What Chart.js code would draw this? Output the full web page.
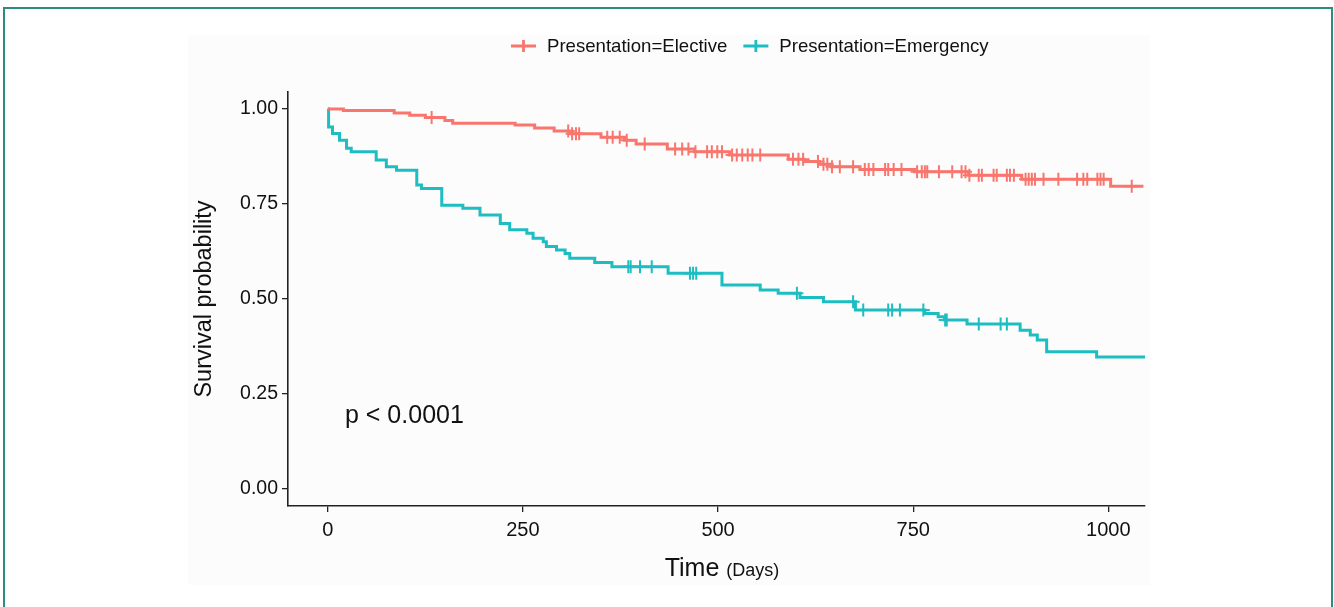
<!DOCTYPE html>
<html lang="en">
<head>
<meta charset="UTF-8">
<title>Survival by presentation</title>
<script src="https://cdn.jsdelivr.net/npm/chart.js"></script>
<style>
  * { margin: 0; padding: 0; box-sizing: border-box; }
  body {
    width: 1334px;
    height: 607px;
    background: #fff;
    overflow: hidden;
    position: relative;
    font-family: 'Liberation Sans', Arial, sans-serif;
  }
  /* thin teal frame round the figure */
  .frame {
    position: absolute;
    left: 3px;
    top: 7px;
    width: 1330px;
    height: 650px;
    border: 2px solid #2a8d7f;
  }
  .panel {
    position: absolute;
    left: 188px;
    top: 35px;
    width: 962px;
    height: 550px;
    background: #fcfcfc;
  }
  #km {
    position: absolute;
    left: 0;
    top: 0;
  }
</style>
</head>
<body>
<div class="frame"></div>
<div class="panel"></div>
<canvas id="km" width="1334" height="607"></canvas>

<script>
  const xTicks = [0, 250, 500, 750, 1000];
  const yTicks = [0, 0.25, 0.5, 0.75, 1];
  const seriesNames = ['Presentation=Elective', 'Presentation=Emergency'];
  const seriesColors = ['#f8766d', '#1dbdc2'];
  const pText = 'p < 0.0001';
  const pAt = { x: 22, y: 0.174 };

  // Elective: step curve (day, survival)
  const elecTime = [0, 20, 85, 105, 125, 150, 160, 240, 265, 290, 310, 350, 380, 395, 435, 470, 515, 590, 610, 630, 645, 682, 752, 821, 889, 1003, 1045];
  const elecSurv = [1.000, 0.996, 0.990, 0.984, 0.978, 0.970, 0.963, 0.958, 0.950, 0.942, 0.935, 0.926, 0.918, 0.908, 0.895, 0.888, 0.879, 0.868, 0.862, 0.855, 0.848, 0.841, 0.835, 0.826, 0.815, 0.797, 0.797];
  // Elective: censored patients
  const elecCensorTime = [133, 308, 313, 318, 322, 358, 365, 374, 383, 406, 445, 454, 462, 471, 486, 492, 499, 505,
    518, 524, 531, 538, 544, 554, 596, 603, 609, 628, 635, 640, 646, 656, 673, 688, 693, 699, 714, 718, 725, 735,
    755, 761, 765, 768, 783, 800, 812, 817, 822, 834, 838, 853, 857, 870, 874, 879, 894, 898, 902, 906, 917, 936,
    960, 968, 973, 986, 990, 994, 1030];
  const elecCensorSurv = [0.978, 0.942, 0.935, 0.935, 0.935, 0.926, 0.926, 0.926, 0.918, 0.908, 0.895, 0.895, 0.895, 0.888,
    0.888, 0.888, 0.888, 0.888, 0.879, 0.879, 0.879, 0.879, 0.879, 0.879, 0.868, 0.868, 0.868, 0.862, 0.855, 0.855,
    0.848, 0.848, 0.848, 0.841, 0.841, 0.841, 0.841, 0.841, 0.841, 0.841, 0.835, 0.835, 0.835, 0.835, 0.835, 0.835,
    0.835, 0.835, 0.826, 0.826, 0.826, 0.826, 0.826, 0.826, 0.826, 0.826, 0.815, 0.815, 0.815, 0.815, 0.815, 0.815,
    0.815, 0.815, 0.815, 0.815, 0.815, 0.815, 0.797];

  // Emergency: step curve
  const emerTime = [0, 1, 6, 15, 24, 30, 62, 75, 88, 114, 120, 146, 173, 195, 221, 233, 255, 263, 276, 280, 293, 304, 310,
    342, 364, 436, 505, 554, 577, 605, 635, 676, 765, 782, 790, 819, 887, 900, 909, 921, 985, 1047];
  const emerSurv = [1.000, 0.953, 0.936, 0.918, 0.897, 0.888, 0.866, 0.848, 0.839, 0.800, 0.791, 0.747, 0.739, 0.721, 0.699,
    0.682, 0.673, 0.660, 0.651, 0.638, 0.629, 0.620, 0.607, 0.596, 0.585, 0.568, 0.537, 0.524, 0.515, 0.504, 0.493,
    0.471, 0.462, 0.453, 0.445, 0.434, 0.418, 0.405, 0.392, 0.361, 0.347, 0.347];
  // Emergency: censored patients
  const emerCensorTime = [385, 388, 400, 415, 464, 468, 472, 601, 673, 686, 718, 723, 733, 763, 791, 793, 834, 862, 870];
  const emerCensorSurv = [0.585, 0.585, 0.585, 0.585, 0.568, 0.568, 0.568, 0.515, 0.493, 0.471, 0.471, 0.471, 0.471,
    0.471, 0.445, 0.445, 0.434, 0.434, 0.434];

  const pts = (xs, ys) => xs.map((x, i) => ({ x: x, y: ys[i] }));

  function curve(i, xs, ys) {
    return {
      label: seriesNames[i],
      data: pts(xs, ys),
      showLine: true,
      stepped: true,
      borderColor: seriesColors[i],
      borderWidth: 3,
      pointRadius: 0,
      fill: false
    };
  }

  function censors(i, xs, ys) {
    return {
      label: seriesNames[i] + ' (censored)',
      data: pts(xs, ys),
      showLine: false,
      pointStyle: 'cross',
      pointRadius: 6.5,
      pointBorderWidth: 2,
      borderColor: seriesColors[i],
      backgroundColor: seriesColors[i]
    };
  }

  // legend, p value and x title drawn on top
  const extras = {
    id: 'extras',
    afterDraw(chart) {
      const ctx = chart.ctx;
      const xs = chart.scales.x, ys = chart.scales.y;
      ctx.save();

      // legend
      let lx = 511;
      const ly = 46;
      ctx.font = '18.6px "Liberation Sans", Arial, sans-serif';
      ctx.textBaseline = 'middle';
      ctx.textAlign = 'left';
      seriesNames.forEach((name, i) => {
        ctx.strokeStyle = seriesColors[i];
        ctx.lineWidth = 2.8;
        ctx.beginPath();
        ctx.moveTo(lx, ly);
        ctx.lineTo(lx + 25, ly);
        ctx.moveTo(lx + 12.5, ly - 6);
        ctx.lineTo(lx + 12.5, ly + 6);
        ctx.stroke();
        ctx.fillStyle = '#111';
        ctx.fillText(name, lx + 36, ly + 1);
        lx += 36 + ctx.measureText(name).width + 16;
      });

      // p value
      ctx.font = '25px "Liberation Sans", Arial, sans-serif';
      ctx.fillStyle = '#111';
      ctx.textBaseline = 'alphabetic';
      ctx.fillText(pText, xs.getPixelForValue(pAt.x), ys.getPixelForValue(pAt.y));

      // x axis title: "Time" large, "(Days)" small
      const big = '25px "Liberation Sans", Arial, sans-serif';
      const small = '18px "Liberation Sans", Arial, sans-serif';
      ctx.font = big;
      const w1 = ctx.measureText('Time ').width;
      ctx.font = small;
      const w2 = ctx.measureText('(Days)').width;
      const tx = 722 - (w1 + w2) / 2;
      ctx.font = big;
      ctx.fillText('Time ', tx, 576);
      ctx.font = small;
      ctx.fillText('(Days)', tx + w1, 576);

      ctx.restore();
    }
  };

  new Chart(document.getElementById('km'), {
    type: 'scatter',
    data: {
      datasets: [
        curve(0, elecTime, elecSurv),
        curve(1, emerTime, emerSurv),
        censors(0, elecCensorTime, elecCensorSurv),
        censors(1, emerCensorTime, emerCensorSurv)
      ]
    },
    options: {
      responsive: false,
      animation: false,
      layout: { padding: { left: 188, right: 189, top: 92, bottom: 21 } },
      plugins: {
        legend: { display: false },
        tooltip: { enabled: false }
      },
      scales: {
        x: {
          type: 'linear',
          min: -51,
          max: 1047,
          afterBuildTicks: s => { s.ticks = xTicks.map(v => ({ value: v })); },
          afterFit: s => { s.height = 80; },
          grid: { drawOnChartArea: false, drawTicks: true, tickLength: 6, color: '#222', lineWidth: 1.3 },
          border: { display: true, color: '#222', width: 1.6 },
          ticks: {
            color: '#111',
            padding: 6,
            maxRotation: 0,
            callback: v => String(v),
            font: { size: 20, family: '"Liberation Sans", Arial, sans-serif' }
          }
        },
        y: {
          min: -0.045,
          max: 1.045,
          afterBuildTicks: s => { s.ticks = yTicks.map(v => ({ value: v })); },
          afterFit: s => { s.width = 100; },
          grid: { drawOnChartArea: false, drawTicks: true, tickLength: 6, color: '#222', lineWidth: 1.3 },
          border: { display: true, color: '#222', width: 1.6 },
          ticks: {
            color: '#111',
            padding: 4,
            callback: v => v.toFixed(2),
            font: { size: 19.5, family: '"Liberation Sans", Arial, sans-serif' }
          },
          title: {
            display: true,
            text: 'Survival probability',
            color: '#111',
            padding: { top: 2, bottom: 0 },
            font: { size: 23.5, family: '"Liberation Sans", Arial, sans-serif' }
          }
        }
      }
    },
    plugins: [extras]
  });
</script>
</body>
</html>
